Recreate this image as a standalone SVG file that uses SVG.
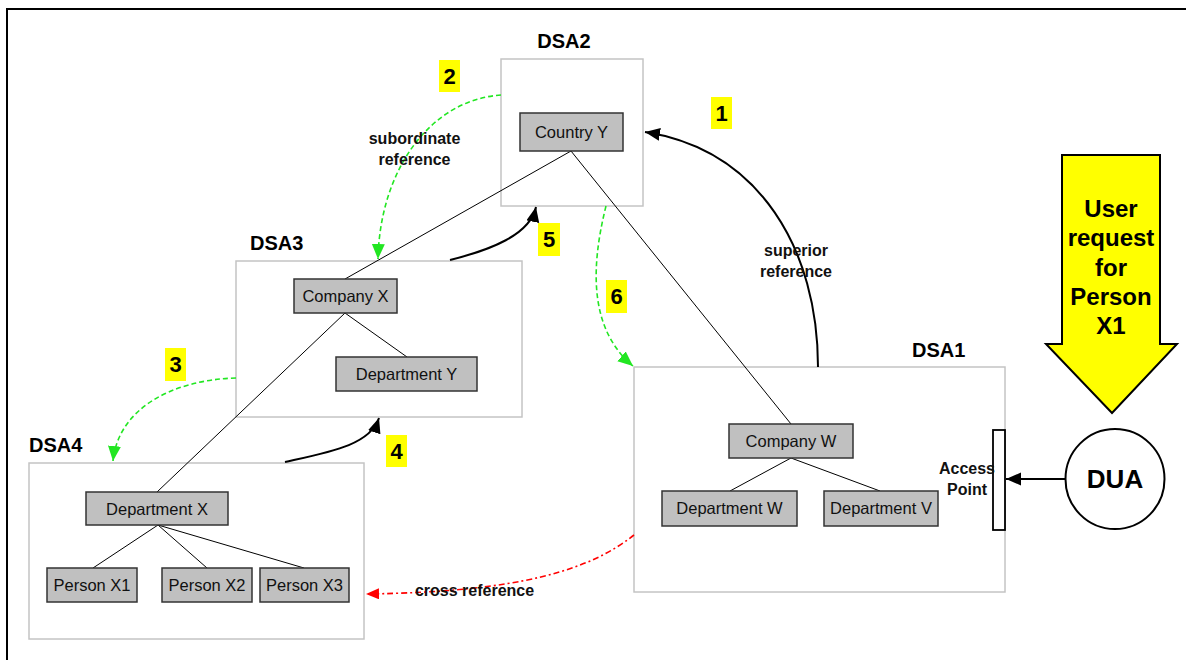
<svg xmlns="http://www.w3.org/2000/svg" width="1186" height="660" viewBox="0 0 1186 660">
  <style>
    .frame { fill: none; stroke: #000; stroke-width: 2; }
    .dsa { fill: #fff; stroke: #c4c4c4; stroke-width: 1.5; }
    .entry { fill: #c0c0c0; stroke: #333; stroke-width: 1.5; }
    .entry-text { font-family: "Liberation Sans", Arial, sans-serif; font-size: 16.5px; fill: #111; text-anchor: middle; }
    .dsa-label { font-family: "Liberation Sans", Arial, sans-serif; font-size: 20px; font-weight: bold; fill: #000; }
    .ref-label { font-family: "Liberation Sans", Arial, sans-serif; font-size: 16px; font-weight: bold; fill: #111; text-anchor: middle; }
    .step { fill: #ffff00; stroke: none; }
    .step-text { font-family: "Liberation Sans", Arial, sans-serif; font-size: 22px; font-weight: bold; fill: #000; text-anchor: middle; }
    .tree { fill: none; stroke: #000; stroke-width: 1; }
    .black-arrow { fill: none; stroke: #000; stroke-width: 2; marker-end: url(#head-black); }
    .green-arrow { fill: none; stroke: #22e622; stroke-width: 1.6; stroke-dasharray: 5 3; marker-end: url(#head-green); }
    .red-arrow { fill: none; stroke: #ff0000; stroke-width: 1.6; stroke-dasharray: 6 3 2 3; marker-end: url(#head-red); }
    .request-text { font-family: "Liberation Sans", Arial, sans-serif; font-size: 24px; font-weight: bold; fill: #000; text-anchor: middle; }
  </style>
  <defs>
    <marker id="head-black" markerUnits="userSpaceOnUse" markerWidth="16" markerHeight="14" refX="15" refY="6.5" orient="auto">
      <path d="M0,0 L15,6.5 L0,13 Z" fill="#000"/>
    </marker>
    <marker id="head-green" markerUnits="userSpaceOnUse" markerWidth="16" markerHeight="14" refX="15" refY="6.5" orient="auto">
      <path d="M0,0 L15,6.5 L0,13 Z" fill="#22e622"/>
    </marker>
    <marker id="head-red" markerUnits="userSpaceOnUse" markerWidth="14" markerHeight="12" refX="13" refY="5.5" orient="auto">
      <path d="M0,0 L13,5.5 L0,11 Z" fill="#ff0000"/>
    </marker>
  </defs>

  <rect width="1186" height="660" fill="#fff"/>
  <!-- page frame (top and left edges visible) -->
  <path class="frame" d="M7,660 L7,9 L1186,9"/>

  <!-- DSA containers -->
  <g id="dsa2">
    <rect class="dsa" x="501" y="59" width="142" height="147"/>
    <text class="dsa-label" x="564" y="48" text-anchor="middle">DSA2</text>
  </g>
  <g id="dsa3">
    <rect class="dsa" x="236" y="261" width="286" height="156"/>
    <text class="dsa-label" x="250" y="250">DSA3</text>
  </g>
  <g id="dsa4">
    <rect class="dsa" x="29" y="463" width="335" height="176"/>
    <text class="dsa-label" x="29" y="452">DSA4</text>
  </g>
  <g id="dsa1">
    <rect class="dsa" x="634" y="367" width="371" height="225"/>
    <text class="dsa-label" x="912" y="357">DSA1</text>
  </g>

  <!-- connectors -->
  <g id="connectors">
    <!-- directory tree -->
    <path class="tree" d="M571,151 L345,279"/>
    <path class="tree" d="M571,151 L791,424"/>
    <path class="tree" d="M345,313 L407,357"/>
    <path class="tree" d="M345,313 L157,492"/>
    <path class="tree" d="M158,525 L93,568 M158,525 L207,568 M158,525 L304,568"/>
    <path class="tree" d="M791,458 L730,491 M791,458 L880,491"/>
    <!-- 1: superior reference -->
    <path class="black-arrow" d="M818,367 C818,250 760,150 645,132"/>
    <!-- 2: subordinate reference -->
    <path class="green-arrow" d="M501,95 C430,100 380,170 378,259"/>
    <!-- 3 -->
    <path class="green-arrow" d="M236,378 C170,380 118,410 113,461"/>
    <!-- 4 -->
    <path class="black-arrow" d="M285,462 C330,452 370,445 379,418"/>
    <!-- 5 -->
    <path class="black-arrow" d="M450,260 C490,250 530,235 536,207"/>
    <!-- 6 -->
    <path class="green-arrow" d="M606,206 C590,270 590,330 633,366"/>
    <!-- cross reference -->
    <path class="red-arrow" d="M634,535 C590,570 520,592 366,594"/>
    <!-- DUA to access point -->
    <path class="black-arrow" d="M1066,479 L1006,479"/>
  </g>

  <!-- directory entries -->
  <g id="country-y">
    <rect class="entry" x="520" y="113" width="103" height="38"/>
    <text class="entry-text" x="571.5" y="138">Country Y</text>
  </g>
  <g id="company-x">
    <rect class="entry" x="294" y="279" width="103" height="34"/>
    <text class="entry-text" x="345.5" y="302">Company X</text>
  </g>
  <g id="department-y">
    <rect class="entry" x="336" y="357" width="141" height="34"/>
    <text class="entry-text" x="406.5" y="380">Department Y</text>
  </g>
  <g id="department-x">
    <rect class="entry" x="86" y="492" width="142" height="33"/>
    <text class="entry-text" x="157" y="514.5">Department X</text>
  </g>
  <g id="person-x1">
    <rect class="entry" x="47" y="568" width="90" height="34"/>
    <text class="entry-text" x="92" y="591">Person X1</text>
  </g>
  <g id="person-x2">
    <rect class="entry" x="162" y="568" width="90" height="34"/>
    <text class="entry-text" x="207" y="591">Person X2</text>
  </g>
  <g id="person-x3">
    <rect class="entry" x="260" y="568" width="89" height="34"/>
    <text class="entry-text" x="304.5" y="591">Person X3</text>
  </g>
  <g id="company-w">
    <rect class="entry" x="729" y="424" width="124" height="34"/>
    <text class="entry-text" x="791" y="447">Company W</text>
  </g>
  <g id="department-w">
    <rect class="entry" x="662" y="491" width="135" height="35"/>
    <text class="entry-text" x="729.5" y="514">Department W</text>
  </g>
  <g id="department-v">
    <rect class="entry" x="824" y="491" width="114" height="35"/>
    <text class="entry-text" x="881" y="514">Department V</text>
  </g>

  <!-- access point -->
  <g id="access-point">
    <rect x="993" y="430" width="12" height="100" fill="#fff" stroke="#000" stroke-width="1.8"/>
    <text class="ref-label" x="967" y="474">Access</text>
    <text class="ref-label" x="967" y="494.5">Point</text>
  </g>

  <!-- directory user agent -->
  <g id="dua">
    <ellipse cx="1115" cy="479" rx="49.5" ry="50" fill="#fff" stroke="#000" stroke-width="2"/>
    <text x="1115" y="488" font-family="Liberation Sans, Arial, sans-serif" font-size="26" font-weight="bold" text-anchor="middle">DUA</text>
  </g>

  <!-- user request -->
  <g id="user-request">
    <polygon points="1062,155 1160,155 1160,344 1177,344 1112,413 1046,344 1062,344" fill="#ffff00" stroke="#000" stroke-width="2"/>
    <text class="request-text" x="1111" y="217">User</text>
    <text class="request-text" x="1111" y="246">request</text>
    <text class="request-text" x="1111" y="276">for</text>
    <text class="request-text" x="1111" y="305">Person</text>
    <text class="request-text" x="1111" y="334">X1</text>
  </g>

  <!-- reference labels -->
  <g id="labels">
    <text class="ref-label" x="414.5" y="144">subordinate</text>
    <text class="ref-label" x="414.5" y="165">reference</text>
    <text class="ref-label" x="796" y="256">superior</text>
    <text class="ref-label" x="796" y="277">reference</text>
    <text class="ref-label" x="474.5" y="596">cross reference</text>
  </g>

  <!-- step numbers -->
  <g id="step-1"><rect class="step" x="711" y="97" width="21" height="32"/><text class="step-text" x="721.5" y="121">1</text></g>
  <g id="step-2"><rect class="step" x="439" y="60" width="21" height="32"/><text class="step-text" x="449.5" y="84">2</text></g>
  <g id="step-3"><rect class="step" x="165" y="348" width="21" height="33"/><text class="step-text" x="175.5" y="372">3</text></g>
  <g id="step-4"><rect class="step" x="386" y="435" width="21" height="32"/><text class="step-text" x="396.5" y="459">4</text></g>
  <g id="step-5"><rect class="step" x="538" y="223" width="22" height="33"/><text class="step-text" x="549" y="247">5</text></g>
  <g id="step-6"><rect class="step" x="606" y="280" width="21" height="33"/><text class="step-text" x="616.5" y="304">6</text></g>
</svg>
